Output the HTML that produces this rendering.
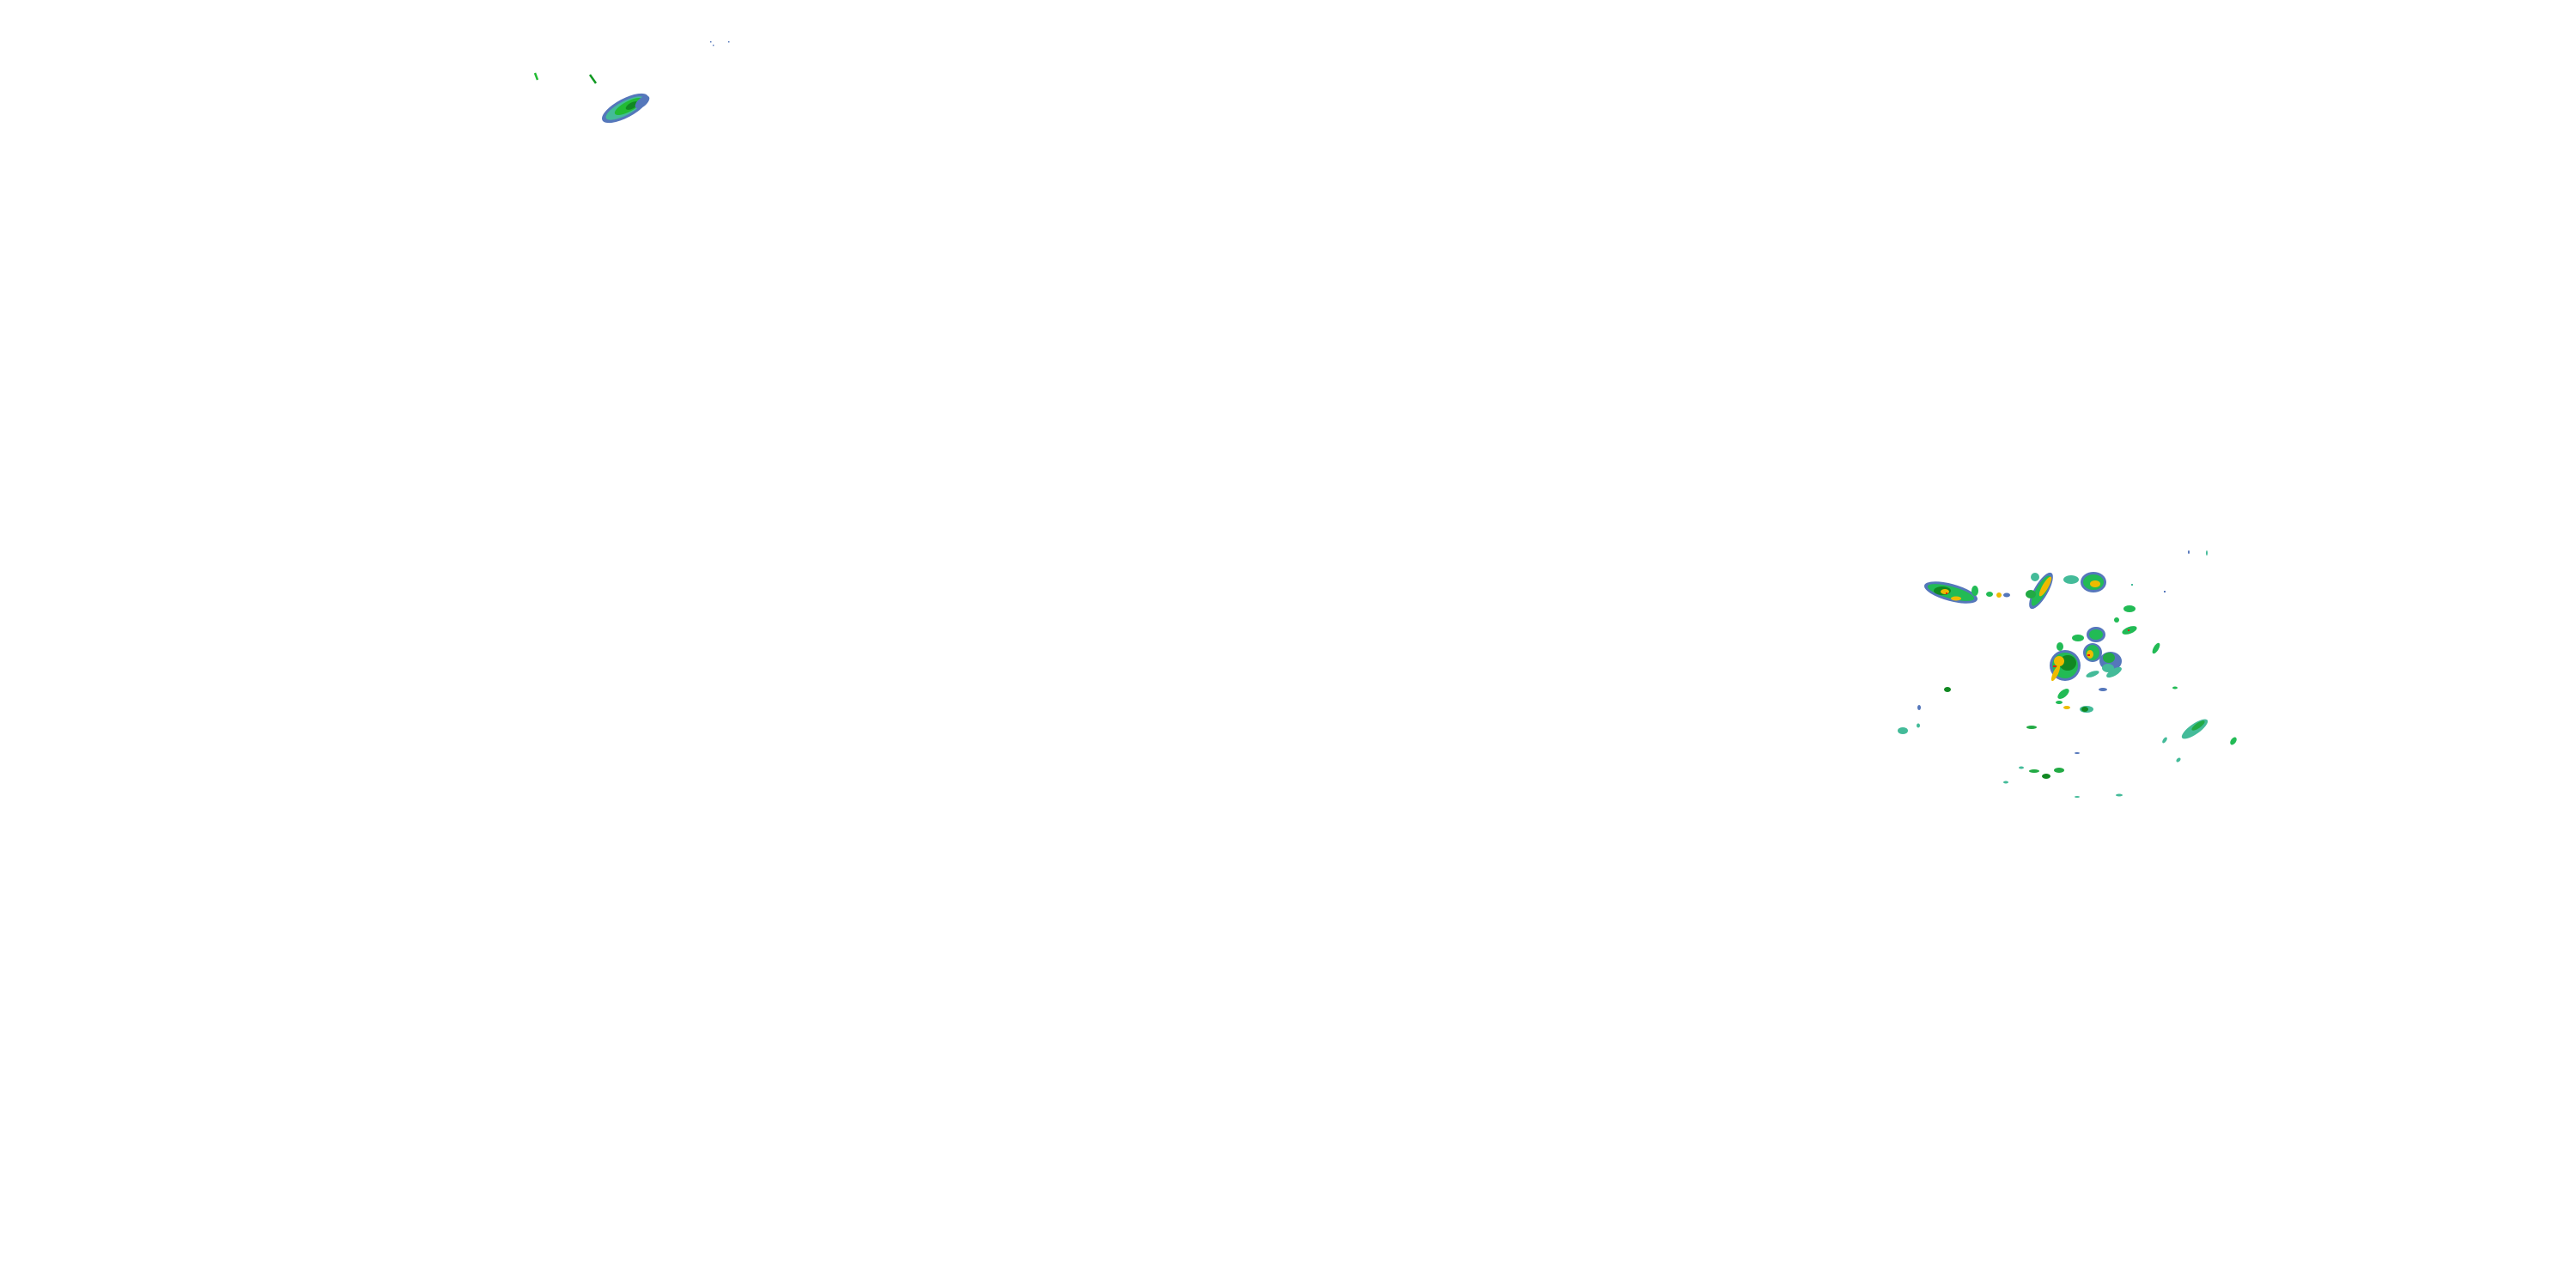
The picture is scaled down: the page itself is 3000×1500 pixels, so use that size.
<!DOCTYPE html>
<html><head><meta charset="utf-8"><style>
html,body{margin:0;padding:0;background:#fff;width:3000px;height:1500px;overflow:hidden}
</style></head><body>
<svg width="3000" height="1500" viewBox="0 0 3000 1500" xmlns="http://www.w3.org/2000/svg">
<defs>
<g id="c"></g>
</defs>
<!-- top-left cluster -->
<g>
<line x1="623" y1="85" x2="626" y2="93" stroke="#22bb33" stroke-width="2.5"/>
<line x1="687" y1="87" x2="694" y2="97" stroke="#119922" stroke-width="2.5"/>
<ellipse cx="728" cy="126" rx="30" ry="11" transform="rotate(-28 728 126)" fill="#5577bb"/>
<ellipse cx="728" cy="126" rx="25" ry="8" transform="rotate(-28 728 126)" fill="#44bb99"/>
<ellipse cx="732" cy="124" rx="18" ry="6" transform="rotate(-28 732 124)" fill="#22bb33"/>
<ellipse cx="736" cy="123" rx="8" ry="3.5" transform="rotate(-28 736 123)" fill="#118822"/>
<ellipse cx="748" cy="119" rx="10" ry="5" transform="rotate(-40 748 119)" fill="#5577bb"/>
<rect x="827" y="48" width="1.5" height="1.5" fill="#5577bb"/><rect x="830" y="52" width="1.5" height="1.5" fill="#5577bb"/><rect x="848" y="48" width="1.5" height="1.5" fill="#5577bb"/>
</g>
<!-- right cluster -->
<g>
<!-- left streak -->
<ellipse cx="2272" cy="690" rx="32" ry="10" transform="rotate(15 2272 690)" fill="#5577bb"/>
<ellipse cx="2272" cy="690" rx="28" ry="7" transform="rotate(15 2272 690)" fill="#22bb55"/>
<ellipse cx="2262" cy="688" rx="10" ry="5" fill="#118822"/>
<ellipse cx="2265" cy="689" rx="5" ry="3" fill="#eebb00"/>
<ellipse cx="2278" cy="697" rx="6" ry="2.5" fill="#eebb00"/>
<rect x="2266" y="690" width="2" height="2" fill="#ee2200"/>
<ellipse cx="2300" cy="688" rx="4" ry="6" fill="#22bb55"/>
<ellipse cx="2317" cy="692" rx="4" ry="3" fill="#22bb55"/>
<ellipse cx="2328" cy="693" rx="3" ry="3" fill="#eebb00"/>
<ellipse cx="2337" cy="693" rx="4" ry="2.5" fill="#5577bb"/>
<!-- NE cell -->
<ellipse cx="2377" cy="688" rx="24" ry="8" transform="rotate(-60 2377 688)" fill="#5577bb"/>
<ellipse cx="2377" cy="688" rx="20" ry="6" transform="rotate(-60 2377 688)" fill="#22bb55"/>
<ellipse cx="2382" cy="683" rx="13" ry="3.5" transform="rotate(-60 2382 683)" fill="#eebb00"/>
<ellipse cx="2365" cy="692" rx="6" ry="5" fill="#22aa44"/>
<ellipse cx="2370" cy="672" rx="5" ry="5" fill="#44bb99"/>
<ellipse cx="2412" cy="675" rx="9" ry="5" fill="#44bb99"/>
<ellipse cx="2438" cy="678" rx="15" ry="12" fill="#5577bb"/>
<ellipse cx="2438" cy="678" rx="12" ry="9" fill="#22bb55"/>
<ellipse cx="2440" cy="680" rx="6" ry="4" fill="#eebb00"/>
<!-- main blob -->
<ellipse cx="2405" cy="775" rx="18" ry="18" fill="#5577bb"/>
<ellipse cx="2405" cy="775" rx="15" ry="15" fill="#22bb55"/>
<ellipse cx="2408" cy="772" rx="10" ry="9" fill="#118822"/>
<ellipse cx="2394" cy="784" rx="10" ry="3" transform="rotate(-65 2394 784)" fill="#eebb00"/>
<ellipse cx="2398" cy="770" rx="6" ry="6" fill="#eebb00"/>
<rect x="2391" y="775" width="4" height="2" fill="#ee2200"/>
<ellipse cx="2437" cy="760" rx="11" ry="11" fill="#5577bb"/>
<ellipse cx="2437" cy="760" rx="8" ry="9" fill="#22bb55"/>
<ellipse cx="2434" cy="762" rx="4" ry="5" fill="#eebb00"/>
<rect x="2431" y="762" width="3" height="2" fill="#ee2200"/>
<ellipse cx="2458" cy="770" rx="13" ry="11" fill="#5577bb"/>
<ellipse cx="2456" cy="766" rx="7" ry="6" fill="#22aa44"/>
<ellipse cx="2455" cy="778" rx="7" ry="5" fill="#44bb99"/>
<ellipse cx="2441" cy="739" rx="11" ry="9" fill="#5577bb"/>
<ellipse cx="2441" cy="739" rx="8" ry="6" fill="#22bb55"/>
<ellipse cx="2420" cy="743" rx="7" ry="4" fill="#22bb55"/>
<ellipse cx="2480" cy="734" rx="9" ry="4" transform="rotate(-20 2480 734)" fill="#22bb55"/>
<rect x="2478" y="733" width="2" height="2" fill="#ee2200"/>
<ellipse cx="2480" cy="709" rx="7" ry="4" fill="#22bb55"/>
<ellipse cx="2465" cy="722" rx="3" ry="3" fill="#22bb55"/>
<ellipse cx="2399" cy="753" rx="4" ry="5" fill="#22bb55"/>
<ellipse cx="2403" cy="808" rx="8" ry="4" transform="rotate(-40 2403 808)" fill="#22bb55"/>
<ellipse cx="2398" cy="818" rx="4" ry="2" fill="#22bb55"/>
<ellipse cx="2407" cy="824" rx="4" ry="2" fill="#eebb00"/>
<ellipse cx="2430" cy="826" rx="8" ry="4" fill="#44bb99"/>
<ellipse cx="2428" cy="826" rx="4" ry="3" fill="#118822"/>
<ellipse cx="2437" cy="785" rx="8" ry="3" transform="rotate(-20 2437 785)" fill="#44bb99"/>
<ellipse cx="2462" cy="783" rx="10" ry="4" transform="rotate(-30 2462 783)" fill="#44bb99"/>
<ellipse cx="2556" cy="849" rx="18" ry="6" transform="rotate(-35 2556 849)" fill="#44bb99"/>
<ellipse cx="2560" cy="845" rx="9" ry="3" transform="rotate(-35 2560 845)" fill="#22aa44"/>
<ellipse cx="2511" cy="755" rx="3" ry="7" transform="rotate(30 2511 755)" fill="#22bb55"/>
<ellipse cx="2268" cy="803" rx="4" ry="3" fill="#118822"/>
<ellipse cx="2216" cy="851" rx="6" ry="4" fill="#44bb99"/>
<ellipse cx="2235" cy="824" rx="2" ry="3" fill="#5577bb"/>
<ellipse cx="2234" cy="845" rx="2" ry="2.5" fill="#44bb99"/>
<ellipse cx="2366" cy="847" rx="6" ry="2" fill="#22aa44"/>
<ellipse cx="2369" cy="898" rx="6" ry="2" fill="#22aa44"/>
<ellipse cx="2383" cy="904" rx="5" ry="3" fill="#118822"/>
<ellipse cx="2398" cy="897" rx="6" ry="3" fill="#22aa44"/>
<ellipse cx="2354" cy="894" rx="3" ry="1.5" fill="#44bb99"/>
<ellipse cx="2336" cy="911" rx="3" ry="1.5" fill="#44bb99"/>
<ellipse cx="2601" cy="863" rx="3" ry="5" transform="rotate(35 2601 863)" fill="#22bb55"/>
<ellipse cx="2521" cy="862" rx="2" ry="4" transform="rotate(35 2521 862)" fill="#44bb99"/>
<ellipse cx="2537" cy="885" rx="2" ry="3" transform="rotate(45 2537 885)" fill="#44bb99"/>
<ellipse cx="2419" cy="877" rx="3" ry="1" fill="#5577bb"/>
<ellipse cx="2419" cy="928" rx="3" ry="1" fill="#44bb99"/>
<ellipse cx="2468" cy="926" rx="4" ry="1.5" fill="#44bb99"/>
<ellipse cx="2570" cy="644" rx="1" ry="3" fill="#44bb99"/>
<ellipse cx="2549" cy="643" rx="1" ry="2" fill="#5577bb"/>
<rect x="2482" y="680" width="2" height="2" fill="#44bb99"/>
<rect x="2520" y="688" width="2" height="2" fill="#5577bb"/>
<ellipse cx="2533" cy="801" rx="3" ry="1.5" fill="#22bb55"/>
<ellipse cx="2449" cy="803" rx="5" ry="2" fill="#5577bb"/>
</g>
</svg>
</body></html>
